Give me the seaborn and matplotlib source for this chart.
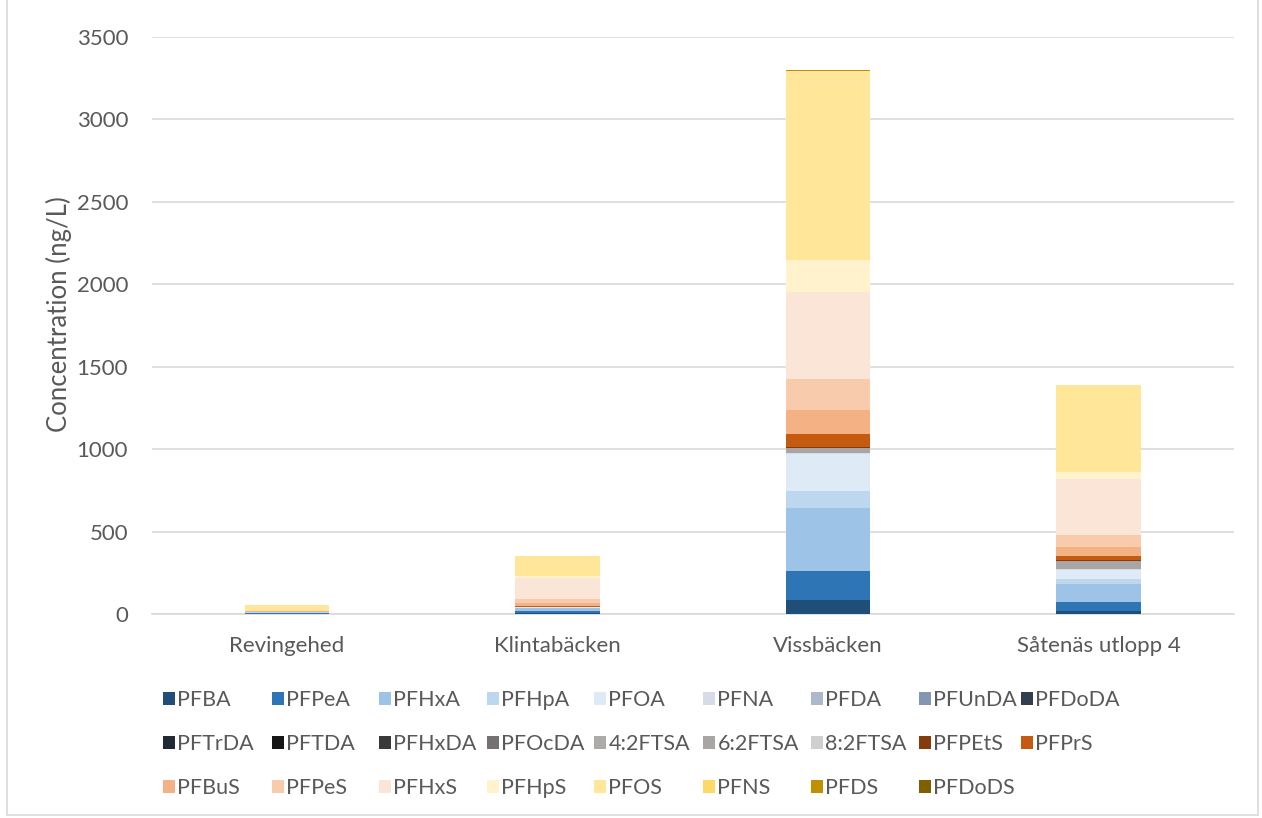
import numpy as np
import matplotlib
matplotlib.use("Agg")
import matplotlib.pyplot as plt
from matplotlib.patches import Patch
from matplotlib.lines import Line2D
import seaborn as sns

sites = ["Revingehed", "Klintabäcken", "Vissbäcken", "Såtenäs utlopp 4"]

compounds = ["PFBA", "PFPeA", "PFHxA", "PFHpA", "PFOA", "PFNA", "PFDA", "PFUnDA", "PFDoDA",
             "PFTrDA", "PFTDA", "PFHxDA", "PFOcDA", "4:2FTSA", "6:2FTSA", "8:2FTSA", "PFPEtS", "PFPrS",
             "PFBuS", "PFPeS", "PFHxS", "PFHpS", "PFOS", "PFNS", "PFDS", "PFDoDS"]

colors = ["#1f4e79", "#2e75b6", "#9dc3e6", "#bdd7ee", "#deebf7", "#d6dce5", "#adb9ca", "#8497b0", "#323f4f",
          "#222a35", "#161616", "#3b3838", "#767171", "#aeaaaa", "#a9a5a5", "#d0cece", "#843c0c", "#c55a11",
          "#f4b183", "#f8cbad", "#fbe5d6", "#fff2cc", "#ffe699", "#ffd966", "#bf9000", "#7f6000"]

# concentrations (ng/L), one value per compound in the order above
revingehed   = [1, 3, 5, 3, 3, 0, 0, 0, 0, 0, 0, 0, 0, 0, 0, 0, 0, 0, 2, 0, 3, 0, 34, 0, 0, 0]
klintabacken = [6, 12, 16, 5, 6, 0, 0, 0, 0, 0, 0, 0, 0, 0, 0, 0, 0, 2, 18, 24, 129, 11, 123, 0, 0, 0]
vissbacken   = [83, 180, 382, 101, 225, 5, 3, 0, 0, 0, 0, 0, 0, 0, 27, 2, 4, 79, 144, 191, 528, 193, 1146, 0, 9, 0]
satenas      = [20, 51, 111, 31, 54, 3, 0, 0, 0, 0, 0, 0, 0, 0, 50, 0, 5, 25, 55, 73, 342, 44, 525, 0, 0, 0]

yticks = [0, 500, 1000, 1500, 2000, 2500, 3000, 3500]

sns.set_theme(style="white")
plt.rcParams["font.family"] = ["Lato", "DejaVu Sans"]
text_color = "#595959"
grid_color = "#d9d9d9"
fs = 16

W, H = 1262, 818
fig = plt.figure(figsize=(W / 100, H / 100), dpi=100)
ax = fig.add_axes([151.75 / W, 1 - 614 / H, 1082 / W, 577 / H])

values = np.array([revingehed, klintabacken, vissbacken, satenas], dtype=float)
bottom = np.zeros(len(sites))
for i, (name, col) in enumerate(zip(compounds, colors)):
    sns.barplot(x=sites, y=values[:, i], bottom=bottom, color=col, width=0.314,
                errorbar=None, linewidth=0, ax=ax, zorder=3, saturation=1)
    bottom = bottom + values[:, i]

ax.set_xlim(-0.5, 3.5)
ax.set_ylim(0, 3500)
ax.set_yticks(yticks)
ax.set_yticklabels([str(v) for v in yticks])
ax.yaxis.grid(True, color=grid_color, linewidth=1.2, zorder=0)
ax.set_axisbelow(True)
for s in ["left", "right", "top"]:
    ax.spines[s].set_visible(False)
ax.spines["bottom"].set_color(grid_color)
ax.spines["bottom"].set_linewidth(1.2)
ax.tick_params(axis="both", length=0, labelsize=fs, labelcolor=text_color)
ax.tick_params(axis="y", pad=17)
ax.tick_params(axis="x", pad=16)
ax.set_xlabel("")
ax.set_ylabel("Concentration (ng/L)", fontsize=18.5, color=text_color)
ax.yaxis.set_label_coords(-0.074, 0.52)

# legend laid out in 9 columns, filled row by row
col_x = [163, 272, 379, 487, 594, 703, 811, 919, 1021]
ncols = 9
for c in range(ncols):
    idx = [k for k in range(c, len(compounds), ncols)]
    handles = [Patch(facecolor=colors[k], edgecolor="none") for k in idx]
    labels = [compounds[k] for k in idx]
    fig.legend(handles, labels, loc="upper left",
               bbox_to_anchor=(col_x[c] / W, 1 - 690 / H),
               frameon=False, fontsize=15.5, labelcolor=text_color,
               handlelength=0.57, handleheight=0.57, handletextpad=0.1,
               labelspacing=1.12, borderpad=0, borderaxespad=0)

# chart frame
fig.add_artist(Line2D([7 / W, 7 / W], [3 / H, 1], transform=fig.transFigure, color=grid_color, lw=1.2))
fig.add_artist(Line2D([7 / W, 1258 / W], [3 / H, 3 / H], transform=fig.transFigure, color=grid_color, lw=1.2))
fig.add_artist(Line2D([1258 / W, 1258 / W], [3 / H, 1], transform=fig.transFigure, color=grid_color, lw=1.2))

fig.savefig("out.png", dpi=100, facecolor="white")
